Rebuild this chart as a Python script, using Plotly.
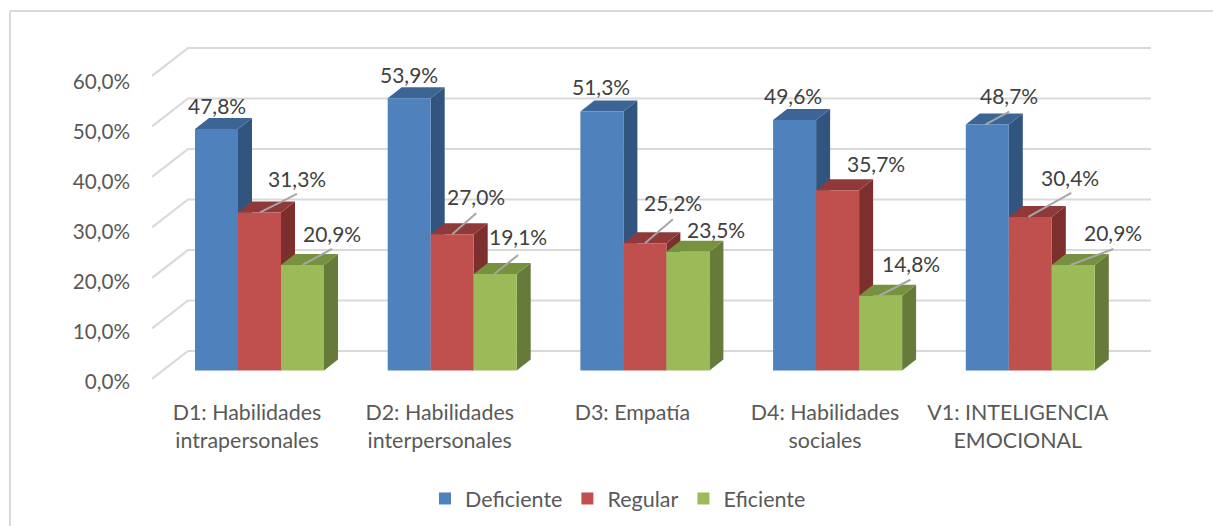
import plotly.graph_objects as go

# ---------- data ----------
categories = ["D1: Habilidades<br>intrapersonales", "D2: Habilidades<br>interpersonales",
              "D3: Empatía", "D4: Habilidades<br>sociales", "V1: INTELIGENCIA<br>EMOCIONAL"]
deficiente = [47.8, 53.9, 51.3, 49.6, 48.7]
regular = [31.3, 27.0, 25.2, 35.7, 30.4]
eficiente = [20.9, 19.1, 23.5, 14.8, 20.9]
y_ticks = [0, 10, 20, 30, 40, 50, 60]
y_tick_labels = ["0,0%", "10,0%", "20,0%", "30,0%", "40,0%", "50,0%", "60,0%"]

# ---------- styling / layout ----------
W, H = 1213, 526
L, R, T, B = 152, 1151, 40, 395      # plot box in page pixels
PX_X = 192.7                         # pixels per category
PX_Y = 5.05                          # pixels per percentage point
X0_PX, Y0_PX = 259.5, 370.5          # page position of x=0, y=0
BAR_W = 43 / PX_X
DX, DV = 14 / PX_X, 11 / PX_Y        # depth of the bars
WALL_X = (188 - X0_PX) / PX_X
WALL_V = 19.5 / PX_Y                 # back wall zero above bar base
FRONT_V = -8.5 / PX_Y                # front end of the side wall grid
GRID = "#d9d9d9"
FONT = "Lato"

series = [
    ("Deficiente", deficiente, "#4f81bd", "#3c6494", "#32557f", -1,
     [(0.5, 22), (0, 22), (-1, 23), (-1.6, 23), (22, 28)],
     [None, None, None, None, (-2, 0, 22, 13)]),
    ("Regular", regular, "#c0504d", "#8f3a38", "#7d2f2d", 0,
     [(37.5, 32), (24, 36), (28, 39), (38, 25), (40, 38)],
     [(0.5, 0, 37.5, 18.5), (0, 0, 24, 21), (0, 0, 28, 24), None, (-2, 0, 41, 24)]),
    ("Eficiente", eficiente, "#9bbb59", "#76923f", "#667a39", 1,
     [(29.5, 30), (23, 36), (28, 21), (30, 31), (40, 31)],
     [(0, 0, 29.5, 16), (-1, 0, 23, 19), None, (-1.6, 0, 30, 16), (-3, 0, 40, 16)]),
]

fig = go.Figure()
shapes, annotations = [], []

# chart frame (left and top edges only)
shapes.append(dict(type="line", xref="paper", yref="paper",
                   x0=(10 - L) / (R - L), x1=(W - L) / (R - L),
                   y0=(B - 11) / (B - T), y1=(B - 11) / (B - T),
                   line=dict(color=GRID, width=2), layer="below"))
shapes.append(dict(type="line", xref="paper", yref="paper",
                   x0=(10 - L) / (R - L), x1=(10 - L) / (R - L),
                   y0=(B - H) / (B - T), y1=(B - 11) / (B - T),
                   line=dict(color=GRID, width=2), layer="below"))

x_right = (R - X0_PX) / PX_X
x_left = (L - X0_PX) / PX_X
for g in y_ticks:
    back = g + WALL_V
    front = g + FRONT_V
    shapes.append(dict(type="path", layer="below",
                       path=f"M {x_left} {front} L {WALL_X} {back} L {x_right} {back}",
                       line=dict(color=GRID, width=2.2)))

for name, vals, col, top, side, pos, label_off, leaders in series:
    fig.add_trace(go.Bar(x=list(range(len(vals))), y=vals, name=name,
                         marker=dict(color=col, line=dict(width=0)),
                         hoverinfo="skip"))
    for i, v in enumerate(vals):
        xl = i + (pos - 0.5) * BAR_W
        xr = i + (pos + 0.5) * BAR_W
        shapes.append(dict(type="path", layer="below", line=dict(width=0), fillcolor=side,
                           path=f"M {xr} 0 L {xr + DX} {DV} L {xr + DX} {v + DV} L {xr} {v} Z"))
        shapes.append(dict(type="path", layer="below", line=dict(width=0), fillcolor=top,
                           path=f"M {xl} {v} L {xl + DX} {v + DV} L {xr + DX} {v + DV} L {xr} {v} Z"))
        xc = i + pos * BAR_W
        text = f"{v:.1f}%".replace(".", ",")
        dx, dy = label_off[i]
        annotations.append(dict(x=xc, y=v, text=text, showarrow=False, xshift=dx, yshift=dy + 1.5,
                                xanchor="center", yanchor="middle",
                                font=dict(family=FONT, size=21, color="#404040")))
        if leaders[i]:
            a, b, c, d = leaders[i]
            shapes.append(dict(type="line", layer="above", xsizemode="pixel", ysizemode="pixel",
                               xanchor=xc, yanchor=v, x0=a, y0=b, x1=c, y1=d,
                               line=dict(color="#a6a6a6", width=2)))

fig.update_layout(
    width=W, height=H, autosize=False,
    margin=dict(l=L, r=W - R, t=T, b=H - B, pad=0, autoexpand=False),
    paper_bgcolor="white", plot_bgcolor="rgba(0,0,0,0)",
    barmode="group", bargap=1 - 3 * BAR_W, bargroupgap=0,
    font=dict(family=FONT, size=20, color="#595959"),
    shapes=shapes, annotations=annotations,
    legend=dict(orientation="h", x=(425 - L) / (R - L), y=(B - 478) / (B - T),
                xanchor="left", yanchor="top", font=dict(family=FONT, size=21.5, color="#595959"),
                bgcolor="rgba(0,0,0,0)", traceorder="normal"),
    xaxis=dict(range=[x_left, x_right], showgrid=False, zeroline=False, showline=False,
               tickmode="array", tickvals=[i - 0.065 for i in range(len(categories))],
               ticktext=categories, tickangle=0, ticks="", ticklabelstandoff=3,
               tickfont=dict(family=FONT, size=21.4, color="#595959")),
    yaxis=dict(range=[(Y0_PX - B) / PX_Y, (Y0_PX - T) / PX_Y], showgrid=False, zeroline=False,
               showline=False, tickmode="array",
               tickvals=[g * 0.99 + FRONT_V - 0.55 for g in y_ticks], ticktext=y_tick_labels,
               ticks="", ticklabelstandoff=21,
               tickfont=dict(family=FONT, size=20.7, color="#595959")),
)

fig.write_html("out.html", config=dict(displayModeBar=False),
               post_script="document.body.style.margin='0';")
